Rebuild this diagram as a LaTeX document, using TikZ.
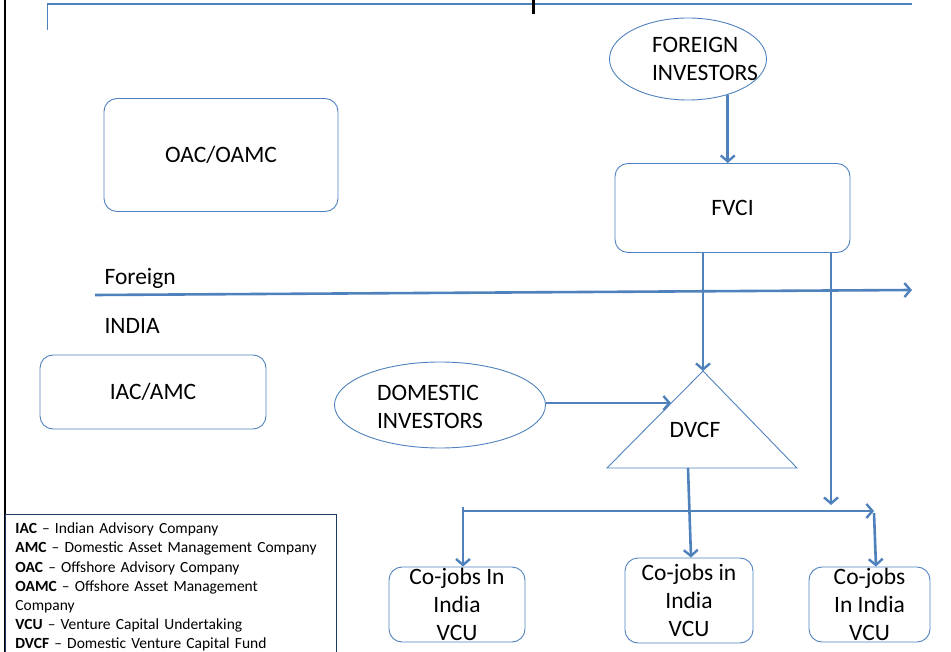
\documentclass[tikz,border=0pt]{standalone}
\usepackage{fontspec}
\setmainfont{Carlito}
\usetikzlibrary{shapes.geometric,arrows.meta}
\definecolor{linkblue}{RGB}{79,129,189}
\definecolor{keyedge}{RGB}{31,56,100}

\begin{document}
\begin{tikzpicture}[x=1pt,y=-1pt,
  txt/.style={font=\fontsize{23.5}{28}\selectfont, align=center},
  box/.style={txt, draw=linkblue, line width=0.9pt, rounded corners=13pt, inner sep=0pt},
  oval/.style={txt, draw=linkblue, line width=0.9pt, ellipse, inner sep=0pt},
  flow/.style={draw=linkblue, line width=2.6pt,
    -{Straight Barb[length=6pt,width=14pt,line width=2.4pt]}}]
\useasboundingbox (0,0) rectangle (951,652);
% page frame
\draw [black, line width=2.5pt] (5,0) -- (5,652);
\draw [linkblue, line width=1.8pt] (47,4) -- (912,4);
\draw [linkblue, line width=0.9pt] (47,4) -- (47,30);
\draw [black, line width=3pt] (533,0) -- (533,14);
 \begin{scope}
  \node [box, minimum width=234, minimum height=113] (oac) at (221,155) {OAC/OAMC};
  \node [box, minimum width=235, minimum height=89] (fvci) at (732.5,208) {FVCI};
  \node [box, minimum width=226, minimum height=74] (iac) at (153,392) {IAC/AMC};
  \node [box, minimum width=136, minimum height=75] (job1) at (457,604.5) {Co-jobs In\\India\\VCU};
  \node [box, minimum width=128, minimum height=85] (job2) at (689,600.5) {Co-jobs in\\India\\VCU};
  \node [box, minimum width=121, minimum height=75] (job3) at (869.5,604.5) {Co-jobs\\In India\\VCU};
 \end{scope}
 \begin{scope}
  \node [oval, minimum width=157, minimum height=82,
    label={[txt, align=left, xshift=17pt]center:{FOREIGN\\INVESTORS}}] (forinv) at (688,59) {};
  \node [oval, minimum width=211, minimum height=86,
    label={[txt, align=left, xshift=-10pt, yshift=-2pt]center:{DOMESTIC\\INVESTORS}}] (dominv) at (440,405) {};
 \end{scope}
% DVCF fund
\coordinate (apex) at (703,371);
\coordinate (dvcfbl) at (607,468);
\coordinate (dvcfbr) at (797,468);
\draw [linkblue, line width=0.9pt] (apex) -- (dvcfbl) -- (dvcfbr) -- cycle;
\node [txt] (dvcf) at (695,430) {DVCF};
\coordinate (dvcfin) at (671,403);
\coordinate (dvcfout) at (688,468);
% regions
\node [txt, anchor=west] (foreign) at (101,278) {Foreign};
\node [txt, anchor=west] (india) at (101,326) {INDIA};
\coordinate (borderl) at (95,295);
\coordinate (borderr) at (912,290);
\coordinate (fvcidrop) at (831,505);
\coordinate (busl) at (463,511);
\coordinate (busr) at (874,511);
% connectors
  \path (forinv.-42) edge [flow] (forinv.-42 |- fvci.north);
  \path (fvci.south -| apex) edge [flow] (apex);
  \path (fvci.south -| fvcidrop) edge [flow] (fvcidrop);
  \path (dominv.east |- dvcfin) edge [flow] (dvcfin);
  \path (borderl) edge [flow] (borderr);
  \path (busl) edge [flow] (busr);
  \path ([yshift=4pt]busl) edge [flow] (busl |- job1.north);
  \path (dvcfout) edge [flow] ([xshift=3pt]dvcfout |- job2.north);
  \path ([yshift=-2pt]busr) edge [flow] ([xshift=2pt]busr |- job3.north);
% key
\node [draw=keyedge, line width=0.8pt, anchor=north west, text width=311, inner xsep=10pt,
  inner ysep=8.5pt, align=left, font=\fontsize{15.5}{19.2}\selectfont] (key) at (5,514)
  {\textbf{IAC} -- Indian Advisory Company\\
   \textbf{AMC} -- Domestic Asset Management Company\\
   \textbf{OAC} -- Offshore Advisory Company\\
   \textbf{OAMC} -- Offshore Asset Management\\
   Company\\
   \textbf{VCU} -- Venture Capital Undertaking\\
   \textbf{DVCF} -- Domestic Venture Capital Fund};
\end{tikzpicture}
\end{document}
